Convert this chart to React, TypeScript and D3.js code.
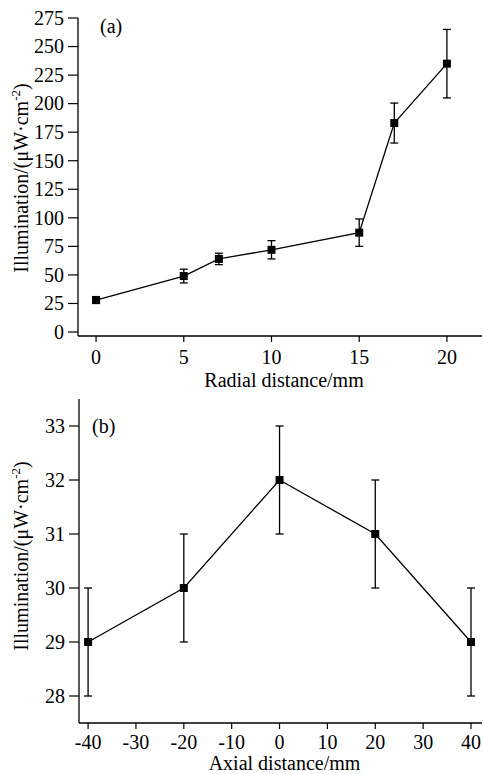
import React from "react";
import * as d3 from "d3";

const radialX = [0, 5, 7, 10, 15, 17, 20];
const radialY = [28, 49, 64, 72, 87, 183, 235];
const radialErr = [3, 6, 5, 8, 12, 17.5, 30];
const radialXTicks = [0, 5, 10, 15, 20];
const radialYTicks = [0, 25, 50, 75, 100, 125, 150, 175, 200, 225, 250, 275];

const axialX = [-40, -20, 0, 20, 40];
const axialY = [29, 30, 32, 31, 29];
const axialErr = [1, 1, 1, 1, 1];
const axialXTicks = [-40, -30, -20, -10, 0, 10, 20, 30, 40];
const axialYTicks = [28, 29, 30, 31, 32, 33];

const FONT = "'Liberation Serif', 'Times New Roman', 'DejaVu Serif', serif";

type PanelProps = {
  xs: number[]; ys: number[]; errs: number[];
  xTicks: number[]; yTicks: number[];
  xDomain: [number, number]; yDomain: [number, number];
  left: number; right: number; top: number; bottom: number;
  xTitle: string; tag: string; tagX: number; tagY: number;
  yLabelY: number; yAxisTop: number; xLabOff: number; xTitleOff: number;
};

function Panel(p: PanelProps) {
  const x = d3.scaleLinear().domain(p.xDomain).range([p.left, p.right]);
  const y = d3.scaleLinear().domain(p.yDomain).range([p.bottom, p.top]);
  const line = d3.line<number>().x((_, i) => x(p.xs[i])).y((d) => y(d));
  const path = line(p.ys) || "";
  const cap = 4;
  const sq = 8;
  return (
    <g style={{ fontFamily: FONT }} fill="#000">
      <line x1={p.left} x2={p.left} y1={p.yAxisTop} y2={p.bottom} stroke="#000" strokeWidth={1.3} />
      <line x1={p.left} x2={p.right} y1={p.bottom} y2={p.bottom} stroke="#000" strokeWidth={1.3} />
      {p.yTicks.map((t) => (
        <g key={"y" + t}>
          <line x1={p.left - 10} x2={p.left} y1={y(t)} y2={y(t)} stroke="#000" strokeWidth={1.2} />
          <text x={p.left - 14} y={y(t) + 6.8} textAnchor="end" fontSize={20}>{t}</text>
        </g>
      ))}
      {p.xTicks.map((t) => (
        <g key={"x" + t}>
          <line x1={x(t)} x2={x(t)} y1={p.bottom} y2={p.bottom + 6} stroke="#000" strokeWidth={1.2} />
          <text x={x(t)} y={p.bottom + p.xLabOff} textAnchor="middle" fontSize={20}>{t}</text>
        </g>
      ))}
      <text x={(p.left + p.right) / 2 + 4} y={p.bottom + p.xTitleOff} textAnchor="middle" fontSize={20}>{p.xTitle}</text>
      <text transform={`translate(28,${p.yLabelY}) rotate(-90)`} textAnchor="middle" fontSize={20}>
        Illumination/(μW·cm<tspan dy={-8} fontSize={13}>-2</tspan><tspan dy={8}>)</tspan>
      </text>
      <text x={p.tagX} y={p.tagY} fontSize={20}>{p.tag}</text>
      <path d={path} fill="none" stroke="#000" strokeWidth={1.3} />
      {p.xs.map((xv, i) => {
        const cx = x(xv);
        const y1 = y(p.ys[i] + p.errs[i]);
        const y2 = y(p.ys[i] - p.errs[i]);
        return (
          <g key={"e" + i} stroke="#000" strokeWidth={1.3}>
            <line x1={cx} x2={cx} y1={y1} y2={y2} />
            <line x1={cx - cap} x2={cx + cap} y1={y1} y2={y1} />
            <line x1={cx - cap} x2={cx + cap} y1={y2} y2={y2} />
          </g>
        );
      })}
      {p.xs.map((xv, i) => (
        <rect key={"m" + i} x={x(xv) - sq / 2} y={y(p.ys[i]) - sq / 2} width={sq} height={sq} fill="#000" />
      ))}
    </g>
  );
}

export default function App() {
  return (
    <svg width={483} height={774} style={{ position: "absolute", left: 0, top: 0, background: "#fff" }}>
      <rect width={483} height={774} fill="#fff" />
      <Panel
        xs={radialX} ys={radialY} errs={radialErr}
        xTicks={radialXTicks} yTicks={radialYTicks}
        xDomain={[-1.03, 22]} yDomain={[-3.5, 275]}
        left={78} right={482} top={18} bottom={336}
        xTitle="Radial distance/mm" tag="(a)" tagX={100} tagY={33}
        yLabelY={178} yAxisTop={18} xLabOff={28} xTitleOff={51}
      />
      <Panel
        xs={axialX} ys={axialY} errs={axialErr}
        xTicks={axialXTicks} yTicks={axialYTicks}
        xDomain={[-41.9, 42.3]} yDomain={[27.5, 33.5]}
        left={79} right={482} top={399} bottom={723}
        xTitle="Axial distance/mm" tag="(b)" tagX={92} tagY={433}
        yLabelY={556} yAxisTop={399} xLabOff={26} xTitleOff={47}
      />
    </svg>
  );
}
